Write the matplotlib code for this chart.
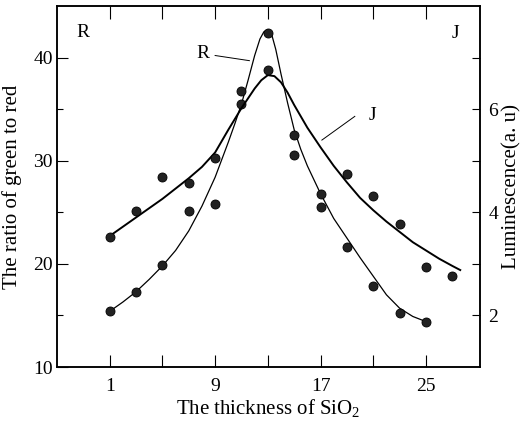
import matplotlib.pyplot as plt
from matplotlib.ticker import FixedLocator

plt.rcParams['font.family'] = 'Liberation Serif'
plt.rcParams['mathtext.fontset'] = 'custom'
plt.rcParams['mathtext.rm'] = 'Liberation Serif'

# measured points: R = ratio of green to red (left axis)
r_thickness = [1, 3, 5, 7, 9, 11, 13, 15, 17, 19, 21, 23, 25]
r_ratio = [15.4, 17.3, 19.9, 25.1, 25.8, 35.5, 42.4, 30.6, 25.5, 21.6, 17.9, 15.2, 14.4]

# measured points: J = luminescence (right axis)
j_thickness = [1, 3, 5, 7, 9, 11, 13, 15, 17, 19, 21, 23, 25, 27]
j_lum = [3.52, 4.02, 4.68, 4.56, 5.06, 6.36, 6.76, 5.50, 4.36, 4.74, 4.32, 3.78, 2.94, 2.76]

# fitted curves
r_curve_x = [1, 2, 3, 4, 5, 6, 7, 8, 9, 10, 10.5, 11, 11.5, 12, 12.4, 12.7, 13.0,
             13.3, 13.6, 14.0, 14.5, 15.0, 15.5, 16, 17, 18, 19, 20, 21, 22, 23, 24, 25]
r_curve_y = [15.4, 16.3, 17.3, 18.5, 19.8, 21.3, 23.2, 25.6, 28.4, 31.8, 33.6, 35.5, 37.8, 40.2,
             41.8, 42.5, 42.7, 42.2, 40.8, 38.4, 35.6, 33.0, 31.1, 29.5, 26.8, 24.4, 22.5,
             20.6, 18.8, 17.0, 15.7, 14.9, 14.4]

j_curve_x = [1, 2, 3, 4, 5, 6, 7, 8, 9, 10, 11, 12, 12.5, 13, 13.5, 14, 14.5, 15,
             16, 17, 18, 19, 20, 21, 22, 23, 24, 25, 26, 27, 27.6]
j_curve_y = [3.54, 3.72, 3.90, 4.08, 4.26, 4.46, 4.66, 4.88, 5.16, 5.60, 6.02, 6.40, 6.56,
             6.66, 6.64, 6.52, 6.32, 6.08, 5.64, 5.26, 4.90, 4.58, 4.28, 4.04, 3.82, 3.62,
             3.42, 3.26, 3.10, 2.96, 2.88]

x_ticks = [1, 9, 17, 25]

fig = plt.figure(figsize=(5.24, 4.25), dpi=100)
ax = fig.add_axes([57 / 524, 1 - 367 / 425, (480 - 57) / 524, (367 - 6) / 425])
ax2 = ax.twinx()

ax.plot(r_curve_x, r_curve_y, color='black', lw=0.9)
ax.plot(r_thickness, r_ratio, 'o', ms=6.5, mfc='#222222', mec='black', mew=0.6)
ax2.plot(j_curve_x, j_curve_y, color='black', lw=1.4)
ax2.plot(j_thickness, j_lum, 'o', ms=6.5, mfc='#222222', mec='black', mew=0.6)

ax.set_xlim(-3, 29.1)
ax.set_ylim(10, 45)
ax2.set_ylim(1, 8)

ax.set_xticks(x_ticks)
ax.xaxis.set_minor_locator(FixedLocator([5, 13, 21]))
ax.set_yticks([10, 20, 30, 40])
ax.yaxis.set_minor_locator(FixedLocator([15, 25, 35]))
ax2.set_yticks([2, 4, 6])
ax2.yaxis.set_minor_locator(FixedLocator([3, 5, 7]))

ax.tick_params(axis='x', which='both', direction='in', top=True, length=9, width=0.8,
               labelsize=14, pad=8)
ax.tick_params(axis='y', which='major', direction='in', length=8, width=0.8, labelsize=14, pad=3)
ax.tick_params(axis='y', which='minor', direction='in', length=4, width=0.8)
ax2.tick_params(axis='y', which='both', direction='in', length=6, width=0.8, labelsize=14, pad=6)

for a in (ax, ax2):
    for s in a.spines.values():
        s.set_linewidth(1.1)

ax.set_xlabel('The thickness of SiO$_2$', fontsize=15, labelpad=2)
ax.set_ylabel('The ratio of green to red', fontsize=15, labelpad=8)
ax2.set_ylabel('Luminescence(a. u)', fontsize=15, labelpad=3)

ax.text(-1.0, 42.4, 'R', fontsize=14, ha='center', va='center')
ax.text(27.2, 42.3, 'J', fontsize=14, ha='center', va='center')
ax.text(8.1, 40.4, 'R', fontsize=14, ha='center', va='center')
ax.plot([9.0, 11.6], [40.2, 39.7], color='black', lw=0.7)
ax.text(20.9, 34.4, 'J', fontsize=14, ha='center', va='center')
ax.plot([17.1, 19.6], [32.0, 34.3], color='black', lw=0.7)

fig.savefig('out.png', dpi=100)
